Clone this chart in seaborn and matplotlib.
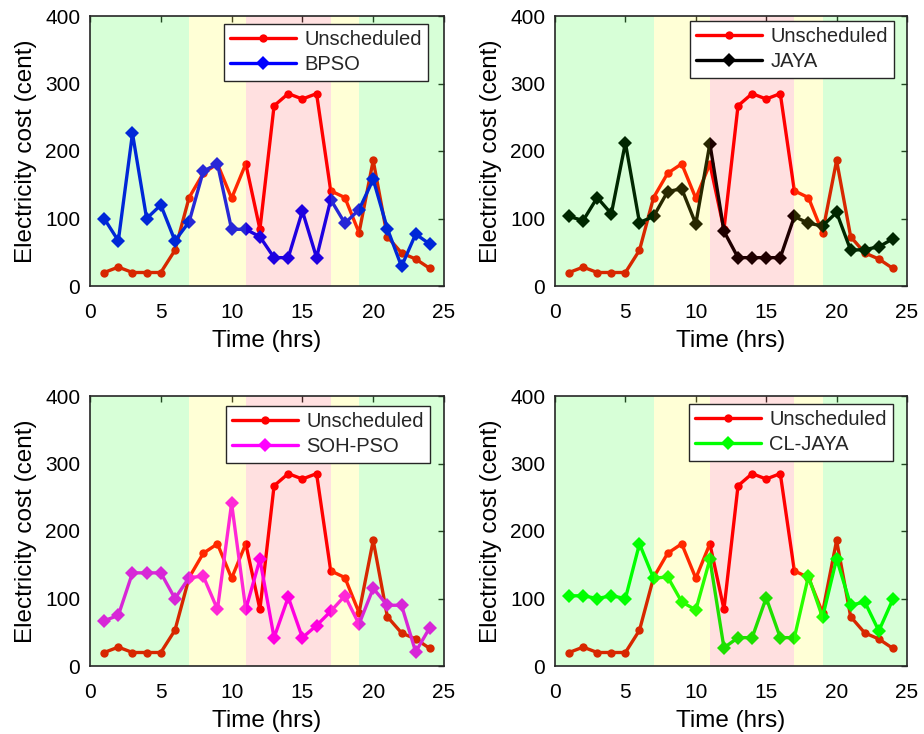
import numpy as np
import pandas as pd
import matplotlib
matplotlib.use("Agg")
import matplotlib.pyplot as plt
import seaborn as sns

hours = list(range(1, 25))
unscheduled = [20, 28, 20, 20, 20, 53, 131, 167, 181, 130, 181, 84, 267, 285, 277, 285,
               141, 131, 79, 186, 73, 49, 40, 26]
bpso = [100, 67, 226, 100, 120, 67, 95, 170, 181, 84, 84, 73, 42, 42, 111, 42,
        128, 93, 113, 158, 85, 29, 77, 62]
jaya = [103, 97, 131, 107, 212, 94, 103, 140, 144, 92, 211, 81, 42, 42, 42, 42,
        103, 93, 89, 109, 53, 54, 58, 70]
sohpso = [67, 75, 138, 138, 138, 100, 131, 133, 84, 241, 84, 158, 42, 102, 42, 60,
          81, 104, 62, 115, 90, 90, 21, 57]
cljaya = [104, 104, 100, 104, 100, 181, 130, 132, 95, 83, 158, 27, 42, 42, 101, 42,
          42, 133, 72, 159, 90, 95, 52, 99]

series_names = ["BPSO", "JAYA", "SOH-PSO", "CL-JAYA"]
series_values = [bpso, jaya, sohpso, cljaya]
series_colors = ["#0000ff", "#000000", "#ff00ff", "#00ff00"]

# tariff periods (start, end, colour, alpha)
periods = [(0, 7, (0, 1, 0), 0.155), (7, 11, (1, 1, 0), 0.16), (11, 17, (1, 0, 0), 0.12),
           (17, 19, (1, 1, 0), 0.16), (19, 25, (0, 1, 0), 0.155)]

sns.set_theme(style="white")
plt.rcParams['font.family'] = ['Liberation Sans', 'DejaVu Sans']
plt.rcParams['axes.edgecolor'] = '#262626'

fig = plt.figure(figsize=(9.24, 7.34), dpi=100)
W, H = 924, 734
boxes = [(90, 16, 444, 286), (555, 16, 907, 286), (90, 396, 444, 666), (555, 396, 907, 666)]
legend_anchor = [(428, 24), (894, 21), (430, 406), (893, 404)]

for i, (name, vals, col) in enumerate(zip(series_names, series_values, series_colors)):
    l, t, r, b = boxes[i]
    ax = fig.add_axes([l / W, (H - b) / H, (r - l) / W, (b - t) / H])
    df_u = pd.DataFrame({"Time": hours, "Cost": unscheduled})
    df_s = pd.DataFrame({"Time": hours, "Cost": vals})
    sns.lineplot(data=df_u, x="Time", y="Cost", ax=ax, color="#ff0000", lw=2.4,
                 marker="o", markersize=6, markeredgewidth=0, label="Unscheduled", zorder=2)
    sns.lineplot(data=df_s, x="Time", y="Cost", ax=ax, color=col, lw=2.4,
                 marker="D", markersize=7.5, markeredgewidth=0, label=name, zorder=2.1)
    for s, e, c, a in periods:
        ax.axvspan(s, e, color=c, alpha=a, lw=0, zorder=3)
    ax.set_xlim(0, 25)
    ax.set_ylim(0, 400)
    ax.set_xticks([0, 5, 10, 15, 20, 25])
    ax.set_yticks([0, 100, 200, 300, 400])
    ax.tick_params(axis='both', direction='in', top=True, right=True, length=4,
                   width=1, labelsize=15, colors='#262626', labelcolor='black')
    ax.tick_params(axis='x', pad=12)
    ax.tick_params(axis='y', pad=7)
    ax.set_xlabel("Time (hrs)", fontsize=17.5, color='black', labelpad=6)
    ax.set_ylabel("Electricity cost (cent)", fontsize=17.5, color='black', labelpad=6)
    for sp in ax.spines.values():
        sp.set_linewidth(1.2)
        sp.set_zorder(6)
    ax_l, ax_t = legend_anchor[i]
    leg = ax.legend(loc="upper right",
                    bbox_to_anchor=((ax_l - l) / (r - l), (b - ax_t) / (b - t)),
                    borderaxespad=0, fontsize=14.5, frameon=True, fancybox=False,
                    framealpha=1, edgecolor='#262626', handlelength=3.3,
                    borderpad=0.3, labelspacing=0.32, handletextpad=0.4)
    leg.get_frame().set_linewidth(1.0)
    leg.set_zorder(10)

fig.savefig("out.png", dpi=100)
